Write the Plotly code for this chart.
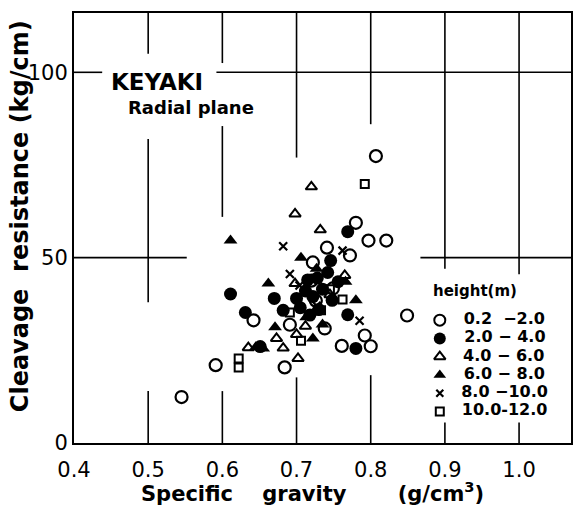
import plotly.graph_objects as go

# ---- data (specific gravity g/cm3, cleavage resistance kg/cm) ----
h1_x = [0.545, 0.591, 0.642, 0.684, 0.691, 0.720, 0.722, 0.726, 0.738, 0.741, 0.749, 0.761, 0.772, 0.780, 0.792, 0.797, 0.800, 0.807, 0.821, 0.849]
h1_y = [12.4, 21.0, 33.1, 20.4, 31.9, 43.8, 48.7, 38.4, 30.9, 52.7, 41.7, 26.2, 50.6, 59.4, 29.0, 54.6, 26.1, 77.4, 54.6, 34.4]

h2_x = [0.611, 0.631, 0.651, 0.670, 0.682, 0.700, 0.705, 0.712, 0.715, 0.718, 0.722, 0.728, 0.730, 0.735, 0.742, 0.746, 0.748, 0.756, 0.769, 0.769, 0.780]
h2_y = [40.2, 35.2, 26.0, 39.0, 35.8, 39.0, 36.5, 41.0, 44.0, 34.5, 39.5, 44.5, 36.0, 41.5, 46.0, 49.2, 38.5, 43.5, 57.0, 34.6, 25.5]

h3_x = [0.635, 0.673, 0.682, 0.698, 0.698, 0.700, 0.702, 0.712, 0.720, 0.732, 0.745, 0.765]
h3_y = [25.7, 28.2, 25.6, 43.0, 61.8, 29.3, 22.8, 31.5, 69.1, 57.5, 40.0, 45.2]

h4_x = [0.611, 0.645, 0.655, 0.662, 0.671, 0.706, 0.713, 0.722, 0.727, 0.735, 0.766, 0.780]
h4_y = [54.6, 25.8, 25.5, 43.0, 31.2, 50.0, 33.9, 28.2, 47.0, 32.0, 43.5, 38.5]

h5_x = [0.682, 0.691, 0.704, 0.727, 0.762, 0.785]
h5_y = [53.1, 45.6, 42.5, 37.0, 51.9, 33.0]

h6_x = [0.622, 0.622, 0.691, 0.706, 0.733, 0.745, 0.762, 0.792]
h6_y = [22.8, 20.4, 35.2, 27.6, 35.8, 41.5, 38.7, 69.9]

series_names = ["0.2  \u22122.0", "2.0 \u2212 4.0", "4.0 \u2212 6.0", "6.0 \u2212 8.0", "8.0 \u221210.0", "10.0-12.0"]

x_ticks = [0.4, 0.5, 0.6, 0.7, 0.8, 0.9, 1.0]
x_tick_labels = ["0.4", "0.5", "0.6", "0.7", "0.8", "0.9", "1.0"]
y_ticks = [0, 50, 100]
y_tick_labels = ["0", "50", "100"]

# broken grid segments as drawn in the original (axis units)
v_segments = [  # (x, y0, y1)
    (0.5, 105, 117), (0.5, 38, 82), (0.5, 0, 14),
    (0.6, 102.5, 117), (0.6, 61, 85.5), (0.6, 0, 14),
    (0.7, 77, 117), (0.7, 0, 17.7),
    (0.8, 86, 117), (0.8, 0, 18.3),
    (0.9, 47, 117), (0.9, 0, 5.5),
    (1.0, 45.5, 117), (1.0, 0, 5.5),
]
h_segments = [  # (y, x0, x1)
    (100, 0.4, 0.438), (100, 0.592, 1.07),
    (50, 0.4, 0.552), (50, 0.867, 1.07),
]

FONT = "DejaVu Sans"

fig = go.Figure()
styles = [
    dict(symbol="circle-open", size=12, line=dict(width=2.2, color="black")),
    dict(symbol="circle", size=13, line=dict(width=0)),
    dict(symbol="triangle-up-open", size=10, line=dict(width=2, color="black")),
    dict(symbol="triangle-up", size=12, line=dict(width=0)),
    dict(symbol="x-thin-open", size=8, line=dict(width=2.2, color="black")),
    dict(symbol="square-open", size=8, line=dict(width=2, color="black")),
]
legend_styles = [
    dict(symbol="circle-open", size=11, line=dict(width=2, color="black")),
    dict(symbol="circle", size=12, line=dict(width=0)),
    dict(symbol="triangle-up-open", size=10, line=dict(width=2, color="black")),
    dict(symbol="triangle-up", size=11, line=dict(width=0)),
    dict(symbol="x-thin-open", size=7, line=dict(width=2.2, color="black")),
    dict(symbol="square-open", size=8, line=dict(width=2, color="black")),
]
data = [(h1_x, h1_y), (h2_x, h2_y), (h3_x, h3_y), (h4_x, h4_y), (h5_x, h5_y), (h6_x, h6_y)]
for (xs, ys), name, st in zip(data, series_names, styles):
    fig.add_trace(go.Scatter(x=xs, y=ys, mode="markers", name=name, showlegend=False,
                             marker=dict(color="black", **st)))

# hand-drawn style legend on a hidden category axis
for name, st in zip(series_names, legend_styles):
    fig.add_trace(go.Scatter(x=[0], y=[name], mode="markers+text", showlegend=False,
                             text=["\u2003" + name], textposition="middle right",
                             textfont=dict(family=FONT, size=16, color="black", weight="bold"),
                             marker=dict(color="black", **st), cliponaxis=False,
                             xaxis="x2", yaxis="y2"))

for x, y0, y1 in v_segments:
    fig.add_shape(type="line", x0=x, x1=x, y0=y0, y1=y1, xref="x", yref="y",
                  line=dict(color="black", width=1.6), layer="below")
for y, x0, x1 in h_segments:
    fig.add_shape(type="line", x0=x0, x1=x1, y0=y, y1=y, xref="x", yref="y",
                  line=dict(color="black", width=1.6), layer="below")

fig.add_annotation(x=0.447, y=97.3, xref="x", yref="y", text="<b>KEYAKI</b>",
                   showarrow=False, xanchor="left", yanchor="middle",
                   font=dict(family=FONT, size=23, color="black"))
fig.add_annotation(x=0.470, y=90.4, xref="x", yref="y", text="<b>Radial plane</b>",
                   showarrow=False, xanchor="left", yanchor="middle",
                   font=dict(family=FONT, size=18, color="black"))
fig.add_annotation(x=0.806, y=0.353, xref="paper", yref="paper", text="<b>height(m)</b>",
                   showarrow=False, xanchor="center", yanchor="middle",
                   font=dict(family=FONT, size=15, color="black"))
# axis titles
fig.add_annotation(x=0.4795, y=-0.113, xref="paper", yref="paper",
                   text="<b>Specific    gravity       (g/cm<sup>3</sup>)</b>",
                   showarrow=False, xanchor="center", yanchor="middle",
                   font=dict(family=FONT, size=21, color="black"))
fig.add_annotation(x=-0.107, y=0.527, xref="paper", yref="paper", textangle=-90,
                   text="<b>Cleavage  resistance (kg/cm)</b>",
                   showarrow=False, xanchor="center", yanchor="middle",
                   font=dict(family=FONT, size=24, color="black"))

fig.update_layout(
    width=581, height=509,
    margin=dict(l=74, r=8, t=13, b=66),
    paper_bgcolor="white", plot_bgcolor="white",
    font=dict(family=FONT, color="black"),
    showlegend=False,
    xaxis=dict(range=[0.4, 1.07], tickvals=x_ticks, ticktext=x_tick_labels,
               showgrid=False, zeroline=False, showline=True, mirror=True,
               linecolor="black", linewidth=2, ticks="", ticklabelstandoff=7,
               tickfont=dict(family=FONT, size=21)),
    yaxis=dict(range=[0, 116], tickvals=y_ticks, ticktext=y_tick_labels,
               showgrid=False, zeroline=False, showline=True, mirror=True,
               linecolor="black", linewidth=2, ticks="",
               tickfont=dict(family=FONT, size=21)),
    xaxis2=dict(domain=[0.736, 0.99], range=[0, 1], anchor="y2", visible=False),
    yaxis2=dict(domain=[0.052, 0.307], type="category", categoryorder="array",
                categoryarray=series_names, range=[5.5, -0.5], anchor="x2", visible=False),
)

fig.write_html("out.html")
